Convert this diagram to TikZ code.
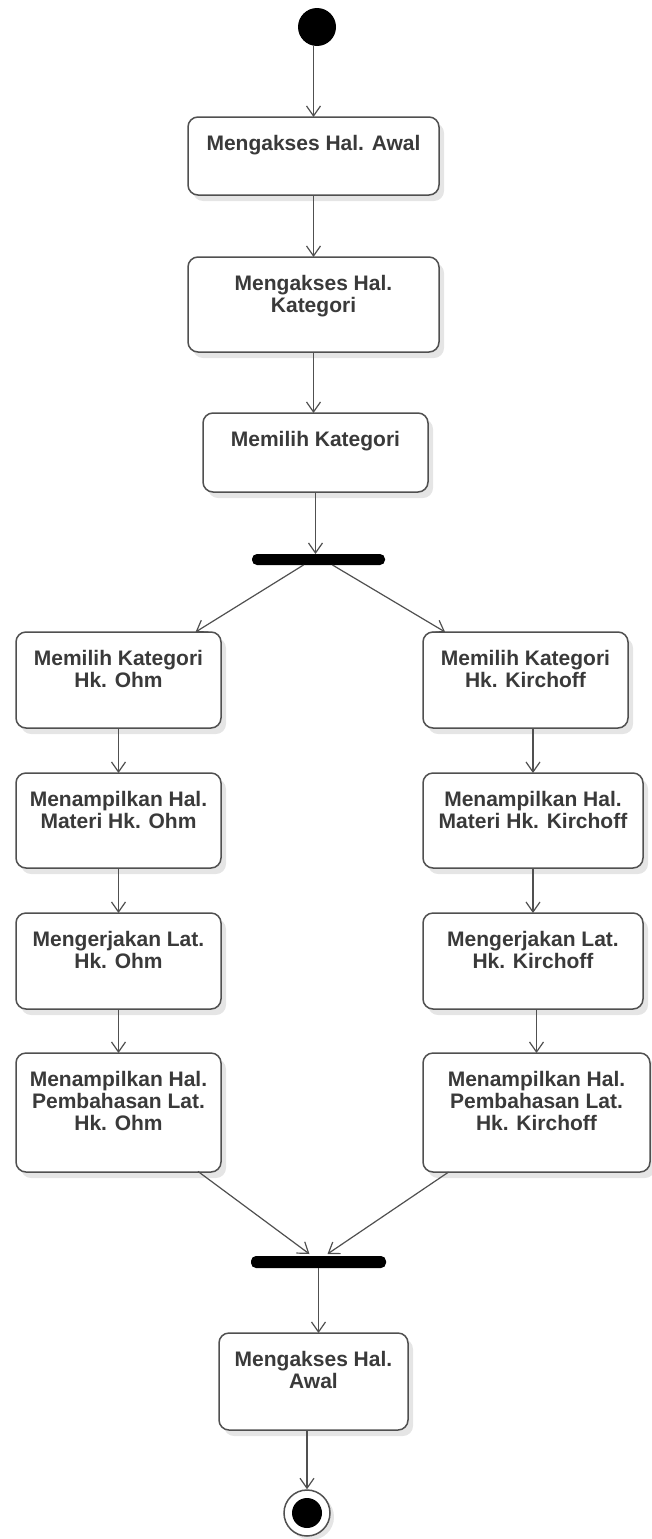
\documentclass[tikz,border=0pt]{standalone}
\usepackage{fontspec}
\setmainfont{Liberation Sans}
\usetikzlibrary{arrows.meta,calc,shadows}
\definecolor{edge}{HTML}{505050}
\definecolor{ink}{HTML}{3A3A3A}
% text block of an activity: width, height, lines (set from the top edge)
\newcommand{\acttext}[3]{\parbox[c][#2][t]{#1}{\centering\rule{0pt}{33pt}#3}}
\begin{document}
\begin{tikzpicture}[x=1pt,y=-1pt,
  act/.style={draw=edge, line width=1.5pt, rounded corners=10pt, fill=white,
    inner sep=0pt, outer sep=0pt, text=ink,
    font=\fontsize{21pt}{22pt}\selectfont\bfseries,
    drop shadow={shadow xshift=5pt, shadow yshift=-6pt, fill=black, opacity=0.10}},
  bar/.style={fill=black, rounded corners=5pt, inner sep=0pt, outer sep=0pt},
  flow/.style={draw=edge, line width=1.2pt,
    -{Straight Barb[length=10pt, width=14pt, line width=1.2pt]}}]
\useasboundingbox[fill=white] (0,0) rectangle (651,1539);

% start and end states
\node[circle, fill=black, minimum size=38pt, inner sep=0pt] (start) at (317,27) {};
\node[circle, draw=edge, line width=1.5pt, fill=white, minimum size=46pt, inner sep=0pt,
  drop shadow={shadow xshift=4pt, shadow yshift=-4pt, fill=black, opacity=0.10}] (final) at (307,1513) {};
\node[circle, fill=black, minimum size=30pt, inner sep=0pt] (finaldot) at (final) {};

% main flow
\node[act] (b1) at (313.5,156) {\acttext{251pt}{78pt}{Mengakses Hal. Awal}};
\node[act] (b2) at (313.5,304.5) {\acttext{251pt}{95pt}{Mengakses Hal.\\Kategori}};
\node[act] (b3) at (315.5,452.5) {\acttext{225pt}{79pt}{Memilih Kategori}};

% fork and join bars
\node[bar, minimum width=133pt, minimum height=11pt] (fork) at (318.5,559.5) {};
\node[bar, minimum width=135pt, minimum height=12pt] (join) at (318.5,1262) {};
\coordinate (forkl) at ($(fork.south)+(-15,0)$);
\coordinate (forkr) at ($(fork.south)+(14,0)$);
\coordinate (joinl) at ($(join.north)+(-9,-2)$);
\coordinate (joinr) at ($(join.north)+(9,-2)$);

% left branch
\node[act] (l1) at (118.5,680) {\acttext{205pt}{96pt}{Memilih Kategori\\Hk. Ohm}};
\node[act] (l2) at (118.5,820.5) {\acttext{205pt}{95pt}{Menampilkan Hal.\\Materi Hk. Ohm}};
\node[act] (l3) at (118.5,961) {\acttext{205pt}{96pt}{Mengerjakan Lat.\\Hk. Ohm}};
\node[act] (l4) at (118.5,1112.5) {\acttext{205pt}{119pt}{Menampilkan Hal.\\Pembahasan Lat.\\Hk. Ohm}};

% right branch
\node[act] (r1) at (525.5,680) {\acttext{205pt}{96pt}{Memilih Kategori\\Hk. Kirchoff}};
\node[act] (r2) at (533,820.5) {\acttext{220pt}{95pt}{Menampilkan Hal.\\Materi Hk. Kirchoff}};
\node[act] (r3) at (533,961) {\acttext{220pt}{96pt}{Mengerjakan Lat.\\Hk. Kirchoff}};
\node[act] (r4) at (536.5,1112.5) {\acttext{227pt}{119pt}{Menampilkan Hal.\\Pembahasan Lat.\\Hk. Kirchoff}};

% closing activity
\node[act] (b5) at (313.5,1381.5) {\acttext{189pt}{97pt}{Mengakses Hal.\\Awal}};

% transitions
\draw[flow] (b1.north |- start.south) -- (b1.north);
\draw[flow] (b1.south) -- (b1.south |- b2.north);
\draw[flow] (b2.south) -- (b2.south |- b3.north);
\draw[flow] (b3.south) -- (b3.south |- fork.north);
\draw[flow] (forkl) -- (l1);
\draw[flow] (forkr) -- (r1);
\draw[flow] (l1.south) -- (l1.south |- l2.north);
\draw[flow] (l2.south) -- (l2.south |- l3.north);
\draw[flow] (l3.south) -- (l3.south |- l4.north);
\draw[flow] (r2.north |- r1.south) -- (r2.north);
\draw[flow] (r2.south) -- (r2.south |- r3.north);
\draw[flow] (r4.north |- r3.south) -- (r4.north);
\draw[flow, shorten <=-1pt] (l4) -- (joinl);
\draw[flow] (r4) -- (joinr);
\draw[flow] (join.south) -- (join.south |- b5.north);
\draw[flow] (final.north |- b5.south) -- (final.north);
\end{tikzpicture}
\end{document}
